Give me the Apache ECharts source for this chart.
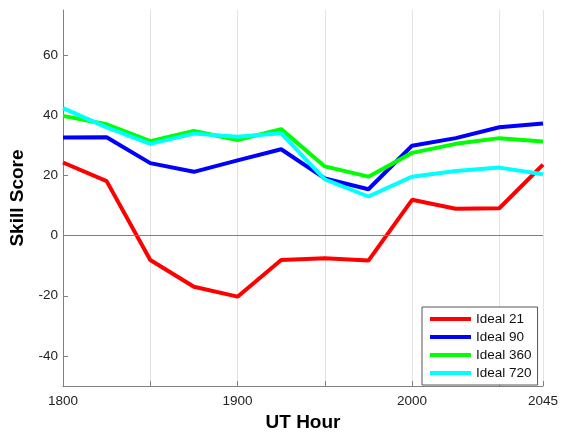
<!DOCTYPE html>
<html>
<head>
<meta charset="utf-8">
<script src="https://cdn.jsdelivr.net/npm/echarts@6.0.0/dist/echarts.min.js"></script>
<style>
  html, body { margin: 0; padding: 0; background: #fff; }
  #chartWrapper { width: 561px; height: 437px; }
</style>
</head>
<body>
<div id="chartWrapper"></div>
<script>
// X軸: UT 時間 (每15分鐘)
const utHours = ["1800","1815","1830","1845","1900","1915","1930","1945","2000","2015","2030","2045"];
// 各系列 Skill Score
const ideal21  = [24.3, 18.1, -8.1, -17.0, -20.3, -8.1, -7.5, -8.3, 11.9, 8.9, 9.1, 23.6];
const ideal90  = [32.6, 32.7, 24.1, 21.2, 25.0, 28.7, 19.0, 15.4, 29.9, 32.4, 36.0, 37.3];
const ideal360 = [39.8, 37.0, 31.4, 34.8, 31.8, 35.4, 23.0, 19.6, 27.5, 30.5, 32.4, 31.3];
const ideal720 = [42.4, 36.0, 30.5, 33.9, 32.9, 34.0, 18.7, 13.0, 19.6, 21.5, 22.6, 20.4];
const seriesNames = ["Ideal 21", "Ideal 90", "Ideal 360", "Ideal 720"];
const colors = ["#ff0000", "#0000ff", "#00ff00", "#00ffff"];
// Y軸刻度
const yTicks = [-40, -20, 0, 20, 40, 60];

const font = "'Liberation Sans', Arial, Helvetica, sans-serif";
const myChart = echarts.init(document.getElementById("chartWrapper"));

const allData = [ideal21, ideal90, ideal360, ideal720];

let series = allData.map((data, index) => {
	return {
		name: seriesNames[index],
		type: "line",
		symbol: "none",
		z: 3 + index,
		lineStyle: { width: 4, color: colors[index] },
		itemStyle: { color: colors[index] },
		data: data,
	};
});

// 0 基準線
series.unshift({
	name: "zero",
	type: "line",
	data: [],
	z: 1,
	silent: true,
	markLine: {
		silent: true,
		symbol: "none",
		label: { show: false },
		lineStyle: { color: "#808080", width: 1, type: "solid" },
		data: [{ yAxis: 0 }],
	},
});

const option = {
	animation: false,
	backgroundColor: "#fff",
	textStyle: { fontFamily: font },
	grid: {
		left: 62,
		right: 16,
		top: 10,
		bottom: 47,
		containLabel: false,
	},
	legend: {
		data: seriesNames,
		orient: "vertical",
		left: 422,
		top: 307,
		icon: "rect",
		itemWidth: 41,
		itemHeight: 4,
		itemGap: 0,
		padding: [3, 6, 3, 8],
		borderColor: "#555",
		borderWidth: 1,
		backgroundColor: "#fff",
		textStyle: { fontFamily: font, fontSize: 13.5, lineHeight: 18, color: "#111" },
	},
	xAxis: {
		type: "category",
		data: utHours,
		boundaryGap: false,
		name: "UT Hour",
		nameLocation: "middle",
		nameGap: 27,
		nameTextStyle: { fontFamily: font, fontSize: 19, fontWeight: "bold", color: "#000" },
		axisLine: { onZero: false, lineStyle: { color: "#808080", width: 1 } },
		axisTick: {
			inside: true,
			length: 5,
			lineStyle: { color: "#808080" },
			interval: (index) => index % 2 === 0 || index === 11,
		},
		axisLabel: {
			fontFamily: font,
			fontSize: 13.5,
			color: "#222",
			margin: 8,
			interval: (index) => index % 4 === 0 || index === 11,
		},
		splitLine: {
			show: true,
			lineStyle: { color: "#e3e3e3", width: 1 },
			interval: (index) => (index % 2 === 0 && index > 0) || index === 11,
		},
	},
	yAxis: {
		type: "value",
		min: -50,
		max: 75,
		name: "Skill Score",
		nameLocation: "middle",
		nameGap: 36,
		nameTextStyle: { fontFamily: font, fontSize: 19, fontWeight: "bold", color: "#000" },
		axisLine: { show: true, lineStyle: { color: "#808080", width: 1 } },
		axisTick: {
			show: true,
			inside: true,
			length: 5,
			lineStyle: { color: "#808080" },
			customValues: yTicks,
		},
		axisLabel: {
			fontFamily: font,
			fontSize: 13.5,
			color: "#222",
			margin: 5,
			customValues: yTicks,
		},
		splitLine: { show: false },
	},
	series: series,
};

myChart.setOption(option);
</script>
</body>
</html>
